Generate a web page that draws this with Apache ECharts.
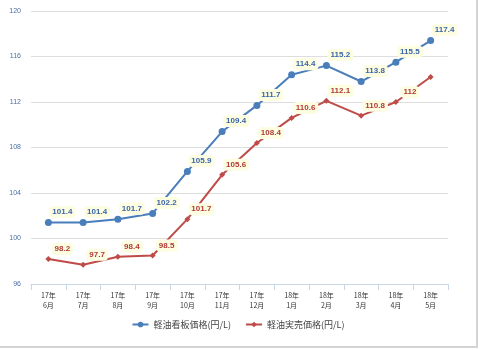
<!DOCTYPE html>
<html><head><meta charset="utf-8">
<script src="https://cdn.jsdelivr.net/npm/echarts@6/dist/echarts.min.js"></script>
<style>
html,body{margin:0;padding:0;background:#fff;}
#c{width:476px;height:346px;border-right:2px solid #d4d4d4;border-bottom:2px solid #d4d4d4;}
</style></head>
<body><div id="c"></div>
<script>
const categories = ['17年\n6月','17年\n7月','17年\n8月','17年\n9月','17年\n10月','17年\n11月','17年\n12月','18年\n1月','18年\n2月','18年\n3月','18年\n4月','18年\n5月'];
const signPrice = [101.4,101.4,101.7,102.2,105.9,109.4,111.7,114.4,115.2,113.8,115.5,117.4];
const actualPrice = [98.2,97.7,98.4,98.5,101.7,105.6,108.4,110.6,112.1,110.8,112,114.2];
const actualLabeled = [true,true,true,true,true,true,true,true,true,true,true,false];
const seriesNames = ['軽油看板価格(円/L)','軽油実売価格(円/L)'];
const yTicks = [96,100,104,108,112,116,120];

const chart = echarts.init(document.getElementById('c'));
const font = '"Noto Sans CJK JP", "Noto Sans", sans-serif';
const lbl = (color) => ({
  show: true, position: 'top', offset: [14, 4], color: color, fontSize: 8, fontWeight: 'bold', fontFamily: 'Liberation Sans, sans-serif',
  backgroundColor: '#fdfde2', padding: [2, 3], borderRadius: 4
});
chart.setOption({
  animation: false,
  grid: {left: 31, right: 28, top: 11, bottom: 62},
  legend: {
    bottom: 12, left: 'center', itemGap: 14, itemWidth: 16, itemHeight: 7,
    textStyle: {fontSize: 9, color: '#444', fontFamily: font},
    data: seriesNames
  },
  xAxis: {
    type: 'category', data: categories, boundaryGap: true,
    axisLine: {lineStyle: {color: '#c9d6e6'}},
    axisTick: {show: true, length: 6, lineStyle: {color: '#c9d6e6'}},
    axisLabel: {fontSize: 7, color: '#333', lineHeight: 10, margin: 6, fontFamily: font}
  },
  yAxis: {
    type: 'value', min: 96, max: 120, interval: 4,
    axisLine: {show: false}, axisTick: {show: false},
    splitLine: {lineStyle: {color: '#dedede'}},
    axisLabel: {fontSize: 7, color: '#4a6fa5', margin: 10, fontFamily: 'Liberation Sans, sans-serif'}
  },
  series: [
    {
      name: seriesNames[0], type: 'line', data: signPrice,
      symbol: 'circle', symbolSize: 7,
      itemStyle: {color: '#4a7ebb'}, lineStyle: {color: '#4a7ebb', width: 2},
      label: lbl('#3a66a8')
    },
    {
      name: seriesNames[1], type: 'line',
      data: actualPrice.map((v, i) => ({value: v, label: {show: actualLabeled[i]}})),
      symbol: 'diamond', symbolSize: 6,
      itemStyle: {color: '#be4b48'}, lineStyle: {color: '#be4b48', width: 2},
      label: lbl('#b03a37')
    }
  ]
});
</script></body></html>
